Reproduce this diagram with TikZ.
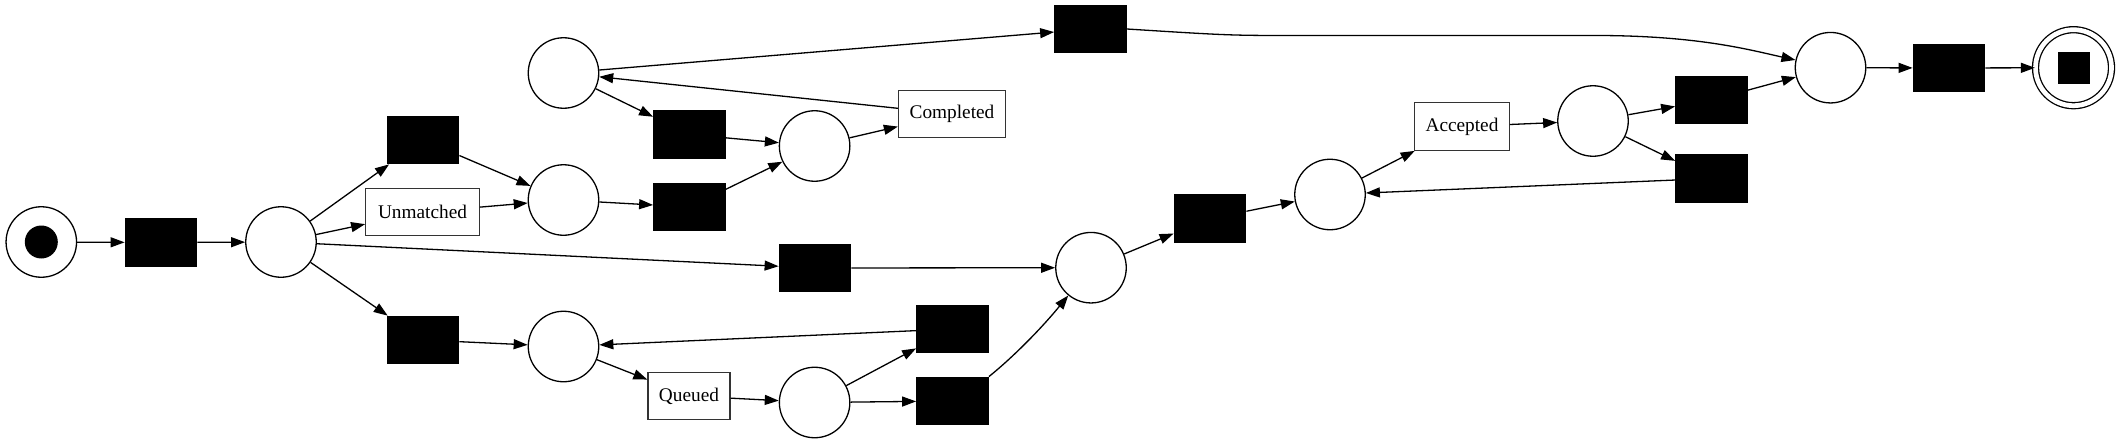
\documentclass[tikz,border=0pt]{standalone}
\usepackage{fontspec}
\setmainfont{Liberation Serif}
\usetikzlibrary{arrows.meta}
\begin{document}
\begin{tikzpicture}[x=1pt,y=1pt,
  place/.style={circle,draw,line width=1.3pt,minimum size=70.5pt,inner sep=0pt},
  trans/.style={rectangle,draw,fill=black,line width=1.3pt,minimum width=71.5pt,minimum height=47.5pt,inner sep=0pt},
  lbox/.style={rectangle,draw=black!80,line width=1.3pt,minimum height=47.5pt,inner sep=0pt,font=\fontsize{19.3}{23}\selectfont},
  arc/.style={line width=1.3pt,-{Triangle[length=14pt,width=10pt]}}]
\useasboundingbox (0,0) rectangle (2127,-444);
\node[place] (start) at (41.3,-242) {};
\node[circle,fill=black,minimum size=33pt,inner sep=0pt] (startdot) at (41.3,-242) {};
\node[trans] (T1) at (161,-242.5) {};
\node[place] (P1) at (281,-242) {};
\node[trans] (T2) at (423,-140) {};
\node[lbox,minimum width=113.5pt] (Unm) at (422.5,-212) {Unmatched};
\node[trans] (T3) at (423,-340) {};
\node[place] (Pc) at (563.5,-73) {};
\node[place] (P2) at (563.5,-200) {};
\node[place] (P3) at (563.5,-346.5) {};
\node[trans] (T4) at (689.5,-134.5) {};
\node[trans] (T5) at (689.5,-207) {};
\node[lbox,minimum width=82pt] (Que) at (689,-396) {Queued};
\node[place] (Pd) at (814.6,-146) {};
\node[trans] (T7) at (815,-268) {};
\node[place] (P4) at (814.6,-402.5) {};
\node[lbox,minimum width=107pt] (Comp) at (952,-114) {Completed};
\node[trans] (T8) at (952.5,-329) {};
\node[trans] (T9) at (952.5,-401) {};
\node[trans] (T6) at (1090.5,-29) {};
\node[place] (P5) at (1091,-267.7) {};
\node[trans] (T10) at (1210,-218.5) {};
\node[place] (P6) at (1330,-194.5) {};
\node[lbox,minimum width=94.5pt] (Acc) at (1462,-126.5) {Accepted};
\node[place] (P7) at (1593,-121) {};
\node[trans] (T11) at (1711.5,-100) {};
\node[trans] (T12) at (1711.5,-178.5) {};
\node[place] (P8) at (1830.5,-67.7) {};
\node[trans] (T13) at (1949,-68) {};
\node[circle,draw,line width=1.3pt,double,double distance=4.7pt,minimum size=76pt,inner sep=0pt] (endp) at (2073.5,-67.7) {};
\node[rectangle,fill=black,minimum size=32pt,inner sep=0pt] (endsq) at (2073.5,-67.7) {};
\coordinate (cA) at (1300,-35.5);
\coordinate (cB) at (1600,-35.5);

\draw[arc] (start) -- (T1);
\draw[arc] (T1) -- (P1);
\draw[arc] (P1) -- (T2);
\draw[arc] (P1) -- (Unm);
\draw[arc] (P1) -- (T7);
\draw[arc] (P1) -- (T3);
\draw[arc] (T2) -- (P2);
\draw[arc] (Unm) -- (P2);
\draw[arc] (P2) -- (T5);
\draw[arc] (Pc) -- (T4);
\draw[arc] (Pc) -- (T6);
\draw[arc] (T4) -- (Pd);
\draw[arc] (T5) -- (Pd);
\draw[arc] (Pd) -- (Comp);
\draw[arc] (Comp) -- (Pc);
\draw[arc] (T6.east) .. controls (1230,-35.5) .. (cA) -- (cB) .. controls (1700,-36) and (1750,-50) .. (P8);
\draw[arc] (T3) -- (P3);
\draw[arc] (T8) -- (P3);
\draw[arc] (P3) -- (Que);
\draw[arc] (Que) -- (P4);
\draw[arc] (P4) -- (T8);
\draw[arc] (P4) -- (T9);
\draw[arc] (T9.north east) .. controls (1012,-358) and (1040,-330) .. (P5);
\draw[arc] (T7) -- (P5);
\draw[arc] (P5) -- (T10);
\draw[arc] (T10) -- (P6);
\draw[arc] (P6) -- (Acc);
\draw[arc] (Acc) -- (P7);
\draw[arc] (P7) -- (T11);
\draw[arc] (P7) -- (T12);
\draw[arc] (T12) -- (P6);
\draw[arc] (T11) -- (P8);
\draw[arc] (P8) -- (T13);
\draw[arc] (T13) -- (endp);
\end{tikzpicture}
\end{document}
